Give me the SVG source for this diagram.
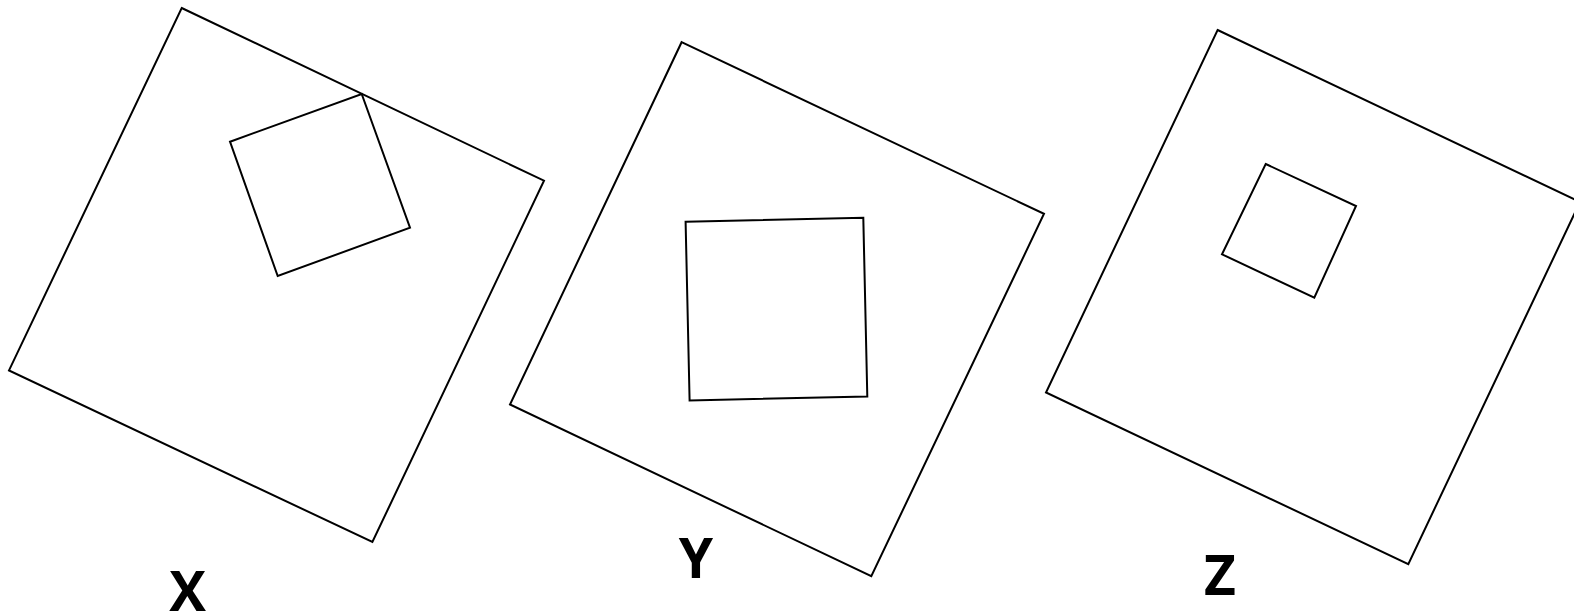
<svg xmlns="http://www.w3.org/2000/svg" width="1574" height="615" viewBox="0 0 1574 615">
<style>
.s{fill:none;stroke:#000;stroke-width:2;stroke-linejoin:miter}
.l{font-family:"Open Sans","Liberation Sans",sans-serif;font-weight:bold;font-size:55px;fill:#000;text-anchor:middle}
</style>
<rect width="1574" height="615" fill="#fff"/>
<g id="X">
<polygon class="s" points="181.7,8 544,180.7 372.4,542 9,370.4"/>
<polygon class="s" points="230,141.7 361.7,94 410,227.7 277.7,276"/>
<text class="l" x="187.5" y="611">X</text>
</g>
<g id="Y">
<polygon class="s" points="681.6,42.2 1044,213.8 871.3,576.2 510,404.5"/>
<polygon class="s" points="685.6,221.8 863.3,217.8 867.3,396.5 689.6,400.5"/>
<text class="l" x="696" y="578">Y</text>
</g>
<g id="Z">
<polygon class="s" points="1217.6,30 1580,202 1408.3,564.1 1046,392.5"/>
<polygon class="s" points="1265.7,164 1356,206 1314.3,297.7 1222,254.3"/>
<text class="l" x="1220" y="595">Z</text>
</g>
<g id="connectors"/>
</svg>
